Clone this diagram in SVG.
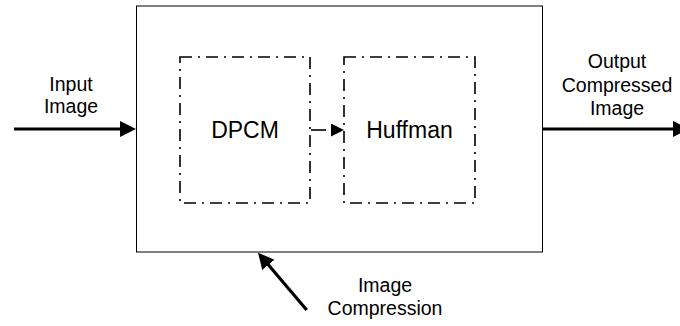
<svg xmlns="http://www.w3.org/2000/svg" width="680" height="326" viewBox="0 0 680 326">
  <defs>
    <style>
      .label { font-family: "Liberation Sans", Arial, sans-serif; font-size: 19.5px; fill: #000; text-anchor: middle; }
      .big { font-size: 23px; }
      .frame { fill: #fff; stroke: #000; stroke-width: 1; }
      .stage { fill: none; stroke: #000; stroke-width: 1.6; stroke-dasharray: 12 6 2 6; }
      .thick { stroke: #000; stroke-width: 3.2; fill: none; }
      .thin { stroke: #000; stroke-width: 1.6; fill: none; }
    </style>
    <marker id="headBig" viewBox="0 0 16 16" markerUnits="userSpaceOnUse" markerWidth="16" markerHeight="16" refX="8" refY="8" orient="auto">
      <path d="M0,0 L16,8 L0,16 z" fill="#000"/>
    </marker>
    <marker id="headSmall" viewBox="0 0 13 13" markerUnits="userSpaceOnUse" markerWidth="13" markerHeight="13" refX="2" refY="6.5" orient="auto">
      <path d="M0,0 L13,6.5 L0,13 z" fill="#000"/>
    </marker>
  </defs>

  <!-- outer compression block -->
  <g id="compression-block">
    <rect class="frame" x="136.5" y="6" width="406" height="246"/>
  </g>

  <!-- inner stages -->
  <g id="dpcm">
    <rect class="stage" x="180" y="57" width="130" height="146"/>
    <text class="label big" x="245" y="138">DPCM</text>
  </g>
  <g id="huffman">
    <rect class="stage" x="344" y="57" width="131" height="146"/>
    <text class="label big" x="409.5" y="138">Huffman</text>
  </g>

  <!-- external labels -->
  <g id="input-label">
    <text class="label" x="71" y="91">Input</text>
    <text class="label" x="71" y="113">Image</text>
  </g>
  <g id="output-label">
    <text class="label" x="617" y="68">Output</text>
    <text class="label" x="617" y="91.5">Compressed</text>
    <text class="label" x="617" y="115">Image</text>
  </g>
  <g id="compression-label">
    <text class="label" x="385" y="292">Image</text>
    <text class="label" x="385" y="315">Compression</text>
  </g>

  <!-- connectors -->
  <g id="connectors">
    <line class="thick" x1="14" y1="129" x2="128" y2="129" marker-end="url(#headBig)"/>
    <line class="thick" x1="543" y1="129" x2="681" y2="129" marker-end="url(#headBig)"/>
    <line class="thick" x1="306.7" y1="310" x2="263.2" y2="258.8" marker-end="url(#headBig)"/>
    <line class="thin" x1="311" y1="130" x2="333" y2="130" stroke-dasharray="15 20" marker-end="url(#headSmall)"/>
  </g>
</svg>
